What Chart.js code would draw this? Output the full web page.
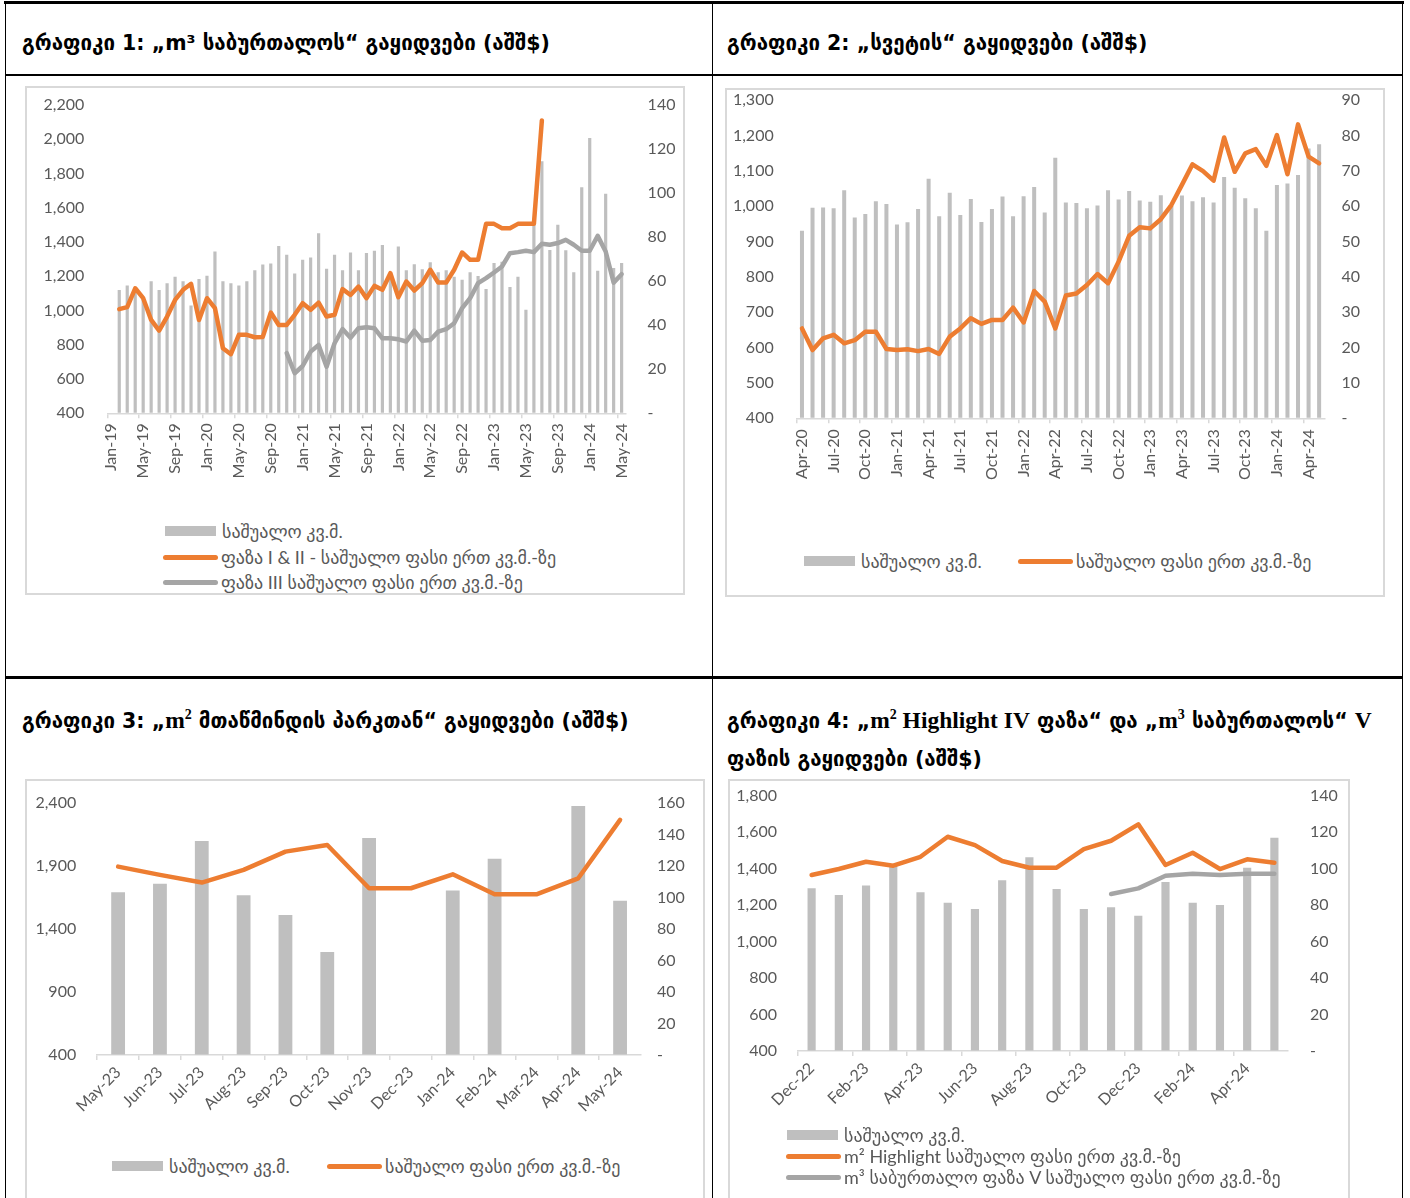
<!DOCTYPE html>
<html lang="ka">
<head>
<meta charset="utf-8">
<title>გაყიდვები</title>
<script src="https://cdn.jsdelivr.net/npm/chart.js@4.4.1/dist/chart.umd.min.js"></script>
<style>
  html, body { margin: 0; padding: 0; background: #fff; }
  body { width: 1410px; height: 1198px; position: relative; overflow: hidden; font-family: "DejaVu Sans", sans-serif; }
  .rule { position: absolute; background: #000; }
  .box { position: absolute; border: 2px solid #d9d9d9; box-sizing: border-box; }
  .title { position: absolute; font-weight: bold; font-size: 20.5px; line-height: 38px; color: #000; white-space: nowrap; }
  .serif { font-family: "Liberation Serif", serif; font-size: 23.5px; }
  .serif sup { font-size: 14px; }
  canvas { position: absolute; }
  .lg { position: absolute; display: flex; align-items: center; height: 22px; transform: translateY(-50%);
        font-family: "Lato", "DejaVu Sans", sans-serif; font-size: 18px; color: #595959; white-space: nowrap; }
  .sw-bar { display: inline-block; width: 51px; height: 10px; margin-right: 6px; }
  .sw-line { display: inline-block; width: 55px; height: 5px; border-radius: 3px; margin-right: 3px; }
</style>
</head>
<body>

<div class="rule" style="left:4px; top:1px; width:1400px; height:3px;"></div>
<div class="rule" style="left:5px; top:1px; width:1px; height:1198px;"></div>
<div class="rule" style="left:1402px; top:1px; width:1px; height:1198px;"></div>
<div class="rule" style="left:712px; top:1px; width:1px; height:1198px;"></div>
<div class="rule" style="left:5px; top:74px; width:1398px; height:2px;"></div>
<div class="rule" style="left:5px; top:676px; width:1398px; height:3px;"></div>

<div class="title" style="left:22px; top:24px;">გრაფიკი 1: „m³ საბურთალოს“ გაყიდვები (აშშ$)</div>
<div class="title" style="left:727px; top:24px;">გრაფიკი 2: „სვეტის“ გაყიდვები (აშშ$)</div>
<div class="title" style="left:22px; top:696px;">გრაფიკი 3: „<span class="serif">m<sup>2</sup></span> მთაწმინდის პარკთან“ გაყიდვები (აშშ$)</div>
<div class="title" style="left:727px; top:696px;">გრაფიკი 4: „<span class="serif">m<sup>2</sup> Highlight IV</span> ფაზა“ და „<span class="serif">m<sup>3</sup></span> საბურთალოს“ <span class="serif">V</span><br>ფაზის გაყიდვები (აშშ$)</div>

<div class="box" style="left:25px; top:86px; width:660px; height:509px;"></div>
<div class="box" style="left:725px; top:88px; width:660px; height:509px;"></div>
<div class="box" style="left:25px; top:779px; width:680px; height:460px;"></div>
<div class="box" style="left:728px; top:779px; width:622px; height:460px;"></div>

<canvas id="c1" width="656" height="420" style="left:26px; top:80px;"></canvas>
<canvas id="c2" width="656" height="420" style="left:726px; top:80px;"></canvas>
<canvas id="c3" width="676" height="345" style="left:26px; top:780px;"></canvas>
<canvas id="c4" width="616" height="345" style="left:730px; top:780px;"></canvas>

<script>
// ---- chart 1: m3 Saburtalo, monthly Jan-19 .. May-24
const c1Months = [
  "Jan-19","Feb-19","Mar-19","Apr-19","May-19","Jun-19","Jul-19","Aug-19","Sep-19","Oct-19","Nov-19","Dec-19",
  "Jan-20","Feb-20","Mar-20","Apr-20","May-20","Jun-20","Jul-20","Aug-20","Sep-20","Oct-20","Nov-20","Dec-20",
  "Jan-21","Feb-21","Mar-21","Apr-21","May-21","Jun-21","Jul-21","Aug-21","Sep-21","Oct-21","Nov-21","Dec-21",
  "Jan-22","Feb-22","Mar-22","Apr-22","May-22","Jun-22","Jul-22","Aug-22","Sep-22","Oct-22","Nov-22","Dec-22",
  "Jan-23","Feb-23","Mar-23","Apr-23","May-23","Jun-23","Jul-23","Aug-23","Sep-23","Oct-23","Nov-23","Dec-23",
  "Jan-24","Feb-24","Mar-24","Apr-24","May-24"
];
const c1Area = [
  null, 56, 58, 57, 52, 60, 56, 59, 62, 60, 49, 61,
  62.5, 73.5, 60, 59, 58, 60, 65, 67.6, 68, 76, 72, 63.5,
  69.7, 70.8, 81.8, 65.6, 72, 65, 73, 65, 72.8, 73.8, 76.4, 62,
  75.7, 65, 67.7, 65.4, 68.6, 64, 65, 62, 60.6, 64, 62.4, 56.4,
  68.2, 68.8, 57.3, 62, 47, 86.4, 114.4, 74.2, 85.6, 74, 64, 102.7,
  125, 64.7, 99.7, 66, 68.2
];
const c1PhaseI_II = [
  null, 1008, 1020, 1130, 1072, 945, 883, 965, 1062, 1121, 1156, 945,
  1072, 1014, 780, 745, 858, 858, 844, 846, 988, 916, 916, 975,
  1043, 1004, 1046, 965, 975, 1125, 1091, 1140, 1072, 1144, 1121, 1218,
  1078, 1169, 1117, 1160, 1238, 1163, 1163, 1238, 1339, 1296, 1296, 1506,
  1506, 1481, 1481, 1506, 1506, 1506, 2110, null, null, null, null, null,
  null, null, null, null, null
];
const c1PhaseIII = [
  null, null, null, null, null, null, null, null, null, null, null, null,
  null, null, null, null, null, null, null, null, null, null, 751, 634,
  676, 760, 799, 672, 809, 892, 841, 897, 903, 897, 838, 838,
  832, 819, 883, 824, 828, 877, 891, 926, 1014, 1072, 1160, 1189,
  1222, 1257, 1335, 1341, 1349, 1341, 1390, 1384, 1394, 1413, 1384, 1349,
  1349, 1436, 1345, 1163, 1212
];

// ---- chart 2: Sveti, monthly Apr-20 .. May-24
const c2Months = [
  "Apr-20","May-20","Jun-20","Jul-20","Aug-20","Sep-20","Oct-20","Nov-20","Dec-20",
  "Jan-21","Feb-21","Mar-21","Apr-21","May-21","Jun-21","Jul-21","Aug-21","Sep-21","Oct-21","Nov-21","Dec-21",
  "Jan-22","Feb-22","Mar-22","Apr-22","May-22","Jun-22","Jul-22","Aug-22","Sep-22","Oct-22","Nov-22","Dec-22",
  "Jan-23","Feb-23","Mar-23","Apr-23","May-23","Jun-23","Jul-23","Aug-23","Sep-23","Oct-23","Nov-23","Dec-23",
  "Jan-24","Feb-24","Mar-24","Apr-24","May-24"
];
const c2Area = [
  53.0, 59.5, 59.6, 59.4, 64.5, 56.8, 57.8, 61.4, 60.6,
  54.8, 55.4, 59.2, 67.7, 57.1, 63.8, 57.5, 62.0, 55.5, 59.2, 62.7, 57.1,
  62.8, 65.4, 58.2, 73.7, 61.0, 60.9, 59.4, 60.2, 64.5, 61.9, 64.3, 61.6,
  61.2, 63.1, 60, 63, 61.4, 62.5, 61.0, 68.2, 65.2, 62.2, 59.4, 53.0,
  66.0, 66.4, 68.8, 76.3, 77.5
];
const c2Price = [
  654, 593, 626, 636, 612, 621, 645, 645, 596,
  593, 595, 590, 596, 582, 631, 654, 683, 667, 678, 678, 713,
  671, 760, 730, 654, 747, 753, 777, 808, 782, 843, 916, 940,
  937, 963, 1003, 1060, 1118, 1099, 1072, 1194, 1097, 1149, 1161, 1114,
  1201, 1090, 1231, 1140, 1121
];

// ---- chart 3: m2 Mtatsminda park
const c3Months = ["May-23","Jun-23","Jul-23","Aug-23","Sep-23","Oct-23","Nov-23","Dec-23","Jan-24","Feb-24","Mar-24","Apr-24","May-24"];
const c3Area = [103.4, 108.9, 136.0, 101.5, 89.0, 65.5, 138.0, null, 104.5, 124.8, null, 158.3, 98.1];
const c3Price = [1897, 1831, 1770, 1871, 2016, 2069, 1725, 1725, 1836, 1677, 1677, 1804, 2268];

// ---- chart 4: m2 Highlight IV and m3 Saburtalo V
const c4Months = ["Dec-22","Jan-23","Feb-23","Mar-23","Apr-23","May-23","Jun-23","Jul-23","Aug-23","Sep-23","Oct-23","Nov-23","Dec-23","Jan-24","Feb-24","Mar-24","Apr-24","May-24"];
const c4Area = [89.2, 85.5, 90.8, 101.6, 87.0, 81.3, 77.9, 93.6, 106.2, 88.8, 77.9, 78.8, 74.2, 92.7, 81.3, 80.0, 100.5, 116.9];
const c4Highlight = [1365, 1398, 1438, 1416, 1465, 1575, 1529, 1442, 1405, 1405, 1507, 1553, 1643, 1420, 1487, 1398, 1451, 1432];
const c4SaburtaloV = [null, null, null, null, null, null, null, null, null, null, null, 1261, 1292, 1361, 1372, 1365, 1372, 1372];

const AREA_LABEL = "საშუალო კვ.მ.";
const PRICE_LABEL = "საშუალო ფასი ერთ კვ.მ.-ზე";

const BAR_GRAY = "#bfbfbf";
const ORANGE = "#ed7d31";
const LINE_GRAY = "#a5a5a5";
const TICK = "#595959";
const AXIS = "#d9d9d9";
const TICK_FONT = { family: "Lato", size: 16 };

function barSet(label, data, pct) {
  return { type: "bar", label, data, yAxisID: "y1", order: 2,
           backgroundColor: BAR_GRAY, categoryPercentage: 1, barPercentage: pct };
}

function lineSet(label, data, color) {
  return { type: "line", label, data, yAxisID: "y", order: 1,
           borderColor: color, backgroundColor: color, borderWidth: 4.5,
           pointRadius: 0, pointHoverRadius: 0, pointBorderWidth: 0, tension: 0, spanGaps: false,
           borderCapStyle: "round", borderJoinStyle: "round" };
}

// value axis: the gap to the plot comes from an invisible tick mark, so the
// tick padding does not push the chart area down
function valueAxis(pos, range, width, gap, cb) {
  const ticks = { stepSize: range[2], padding: 0, color: TICK, font: TICK_FONT };
  if (cb) ticks.callback = cb;
  return {
    position: pos, min: range[0], max: range[1], ticks,
    grid: { display: true, drawOnChartArea: false, drawTicks: true, tickLength: gap, color: "rgba(0,0,0,0)" },
    border: { display: false },
    afterFit: (s) => { s.width = width; }
  };
}

function comboChart(id, o) {
  return new Chart(document.getElementById(id), {
    type: "bar",
    data: { labels: o.labels, datasets: o.datasets },
    options: {
      responsive: false,
      animation: false,
      devicePixelRatio: 1,
      locale: "en-US",
      layout: { padding: { top: o.padTop, left: 0, right: 0, bottom: 0 } },
      plugins: { legend: { display: false }, tooltip: { enabled: false } },
      scales: {
        x: {
          offset: true,
          grid: {
            offset: true, drawOnChartArea: false, drawTicks: true, tickLength: 5, lineWidth: 1.5,
            color: (c) => (c.index % o.every === 0 ? AXIS : "rgba(0,0,0,0)")
          },
          border: { display: true, color: AXIS, width: 1.5 },
          ticks: {
            autoSkip: false, minRotation: o.rot, maxRotation: o.rot, padding: o.xPad,
            color: TICK, font: TICK_FONT,
            callback: function (v, i) { return i % o.every === 0 ? this.getLabelForValue(v) : ""; }
          },
          afterFit: (s) => { s.height = o.xH; }
        },
        y: valueAxis("left", o.left, o.leftW, o.leftGap),
        y1: valueAxis("right", o.right, o.rightW, o.rightGap, (v) => (v === 0 ? "-" : v))
      }
    }
  });
}

function htmlLegend(chart, spots) {
  chart.data.datasets.forEach((ds, i) => {
    const item = document.createElement("div");
    item.className = "lg";
    item.style.left = spots[i][0] + "px";
    item.style.top = spots[i][1] + "px";
    const sw = document.createElement("span");
    sw.className = ds.type === "line" ? "sw-line" : "sw-bar";
    sw.style.background = ds.type === "line" ? ds.borderColor : ds.backgroundColor;
    item.appendChild(sw);
    item.appendChild(document.createTextNode(ds.label));
    document.body.appendChild(item);
  });
}

const chart1 = comboChart("c1", {
  labels: c1Months,
  datasets: [
    barSet(AREA_LABEL, c1Area, 0.4),
    lineSet("ფაზა I & II - " + PRICE_LABEL, c1PhaseI_II, ORANGE),
    lineSet("ფაზა III " + PRICE_LABEL, c1PhaseIII, LINE_GRAY)
  ],
  every: 4, rot: 90, xPad: 5, xH: 86.7, padTop: 25,
  left: [400, 2200, 200], leftW: 81.3, leftGap: 23,
  right: [0, 140, 20], rightW: 56.4, rightGap: 22
});
htmlLegend(chart1, [[165, 531], [163, 557], [163, 582]]);

const chart2 = comboChart("c2", {
  labels: c2Months,
  datasets: [
    barSet(AREA_LABEL, c2Area, 0.38),
    lineSet(PRICE_LABEL, c2Price, ORANGE)
  ],
  every: 3, rot: 90, xPad: 6, xH: 81.7, padTop: 20,
  left: [400, 1300, 100], leftW: 70.7, leftGap: 23,
  right: [0, 90, 10], rightW: 57.6, rightGap: 17
});
htmlLegend(chart2, [[804, 561], [1018, 561]]);

const chart3 = comboChart("c3", {
  labels: c3Months,
  datasets: [
    barSet(AREA_LABEL, c3Area, 0.33),
    lineSet(PRICE_LABEL, c3Price, ORANGE)
  ],
  every: 1, rot: 45, xPad: 3, xH: 70, padTop: 23.3,
  left: [400, 2400, 500], leftW: 71.2, leftGap: 21,
  right: [0, 160, 20], rightW: 61, rightGap: 16
});
htmlLegend(chart3, [[112, 1166], [327, 1166]]);

const chart4 = comboChart("c4", {
  labels: c4Months,
  datasets: [
    barSet(AREA_LABEL, c4Area, 0.3),
    lineSet("m² Highlight " + PRICE_LABEL, c4Highlight, ORANGE),
    lineSet("m³ საბურთალო ფაზა V " + PRICE_LABEL, c4SaburtaloV, LINE_GRAY)
  ],
  every: 2, rot: 45, xPad: 3, xH: 74, padTop: 15.7,
  left: [400, 1800, 200], leftW: 68, leftGap: 21,
  right: [0, 140, 20], rightW: 58, rightGap: 22
});
htmlLegend(chart4, [[787, 1135], [786, 1156], [786, 1177]]);
</script>
</body>
</html>
